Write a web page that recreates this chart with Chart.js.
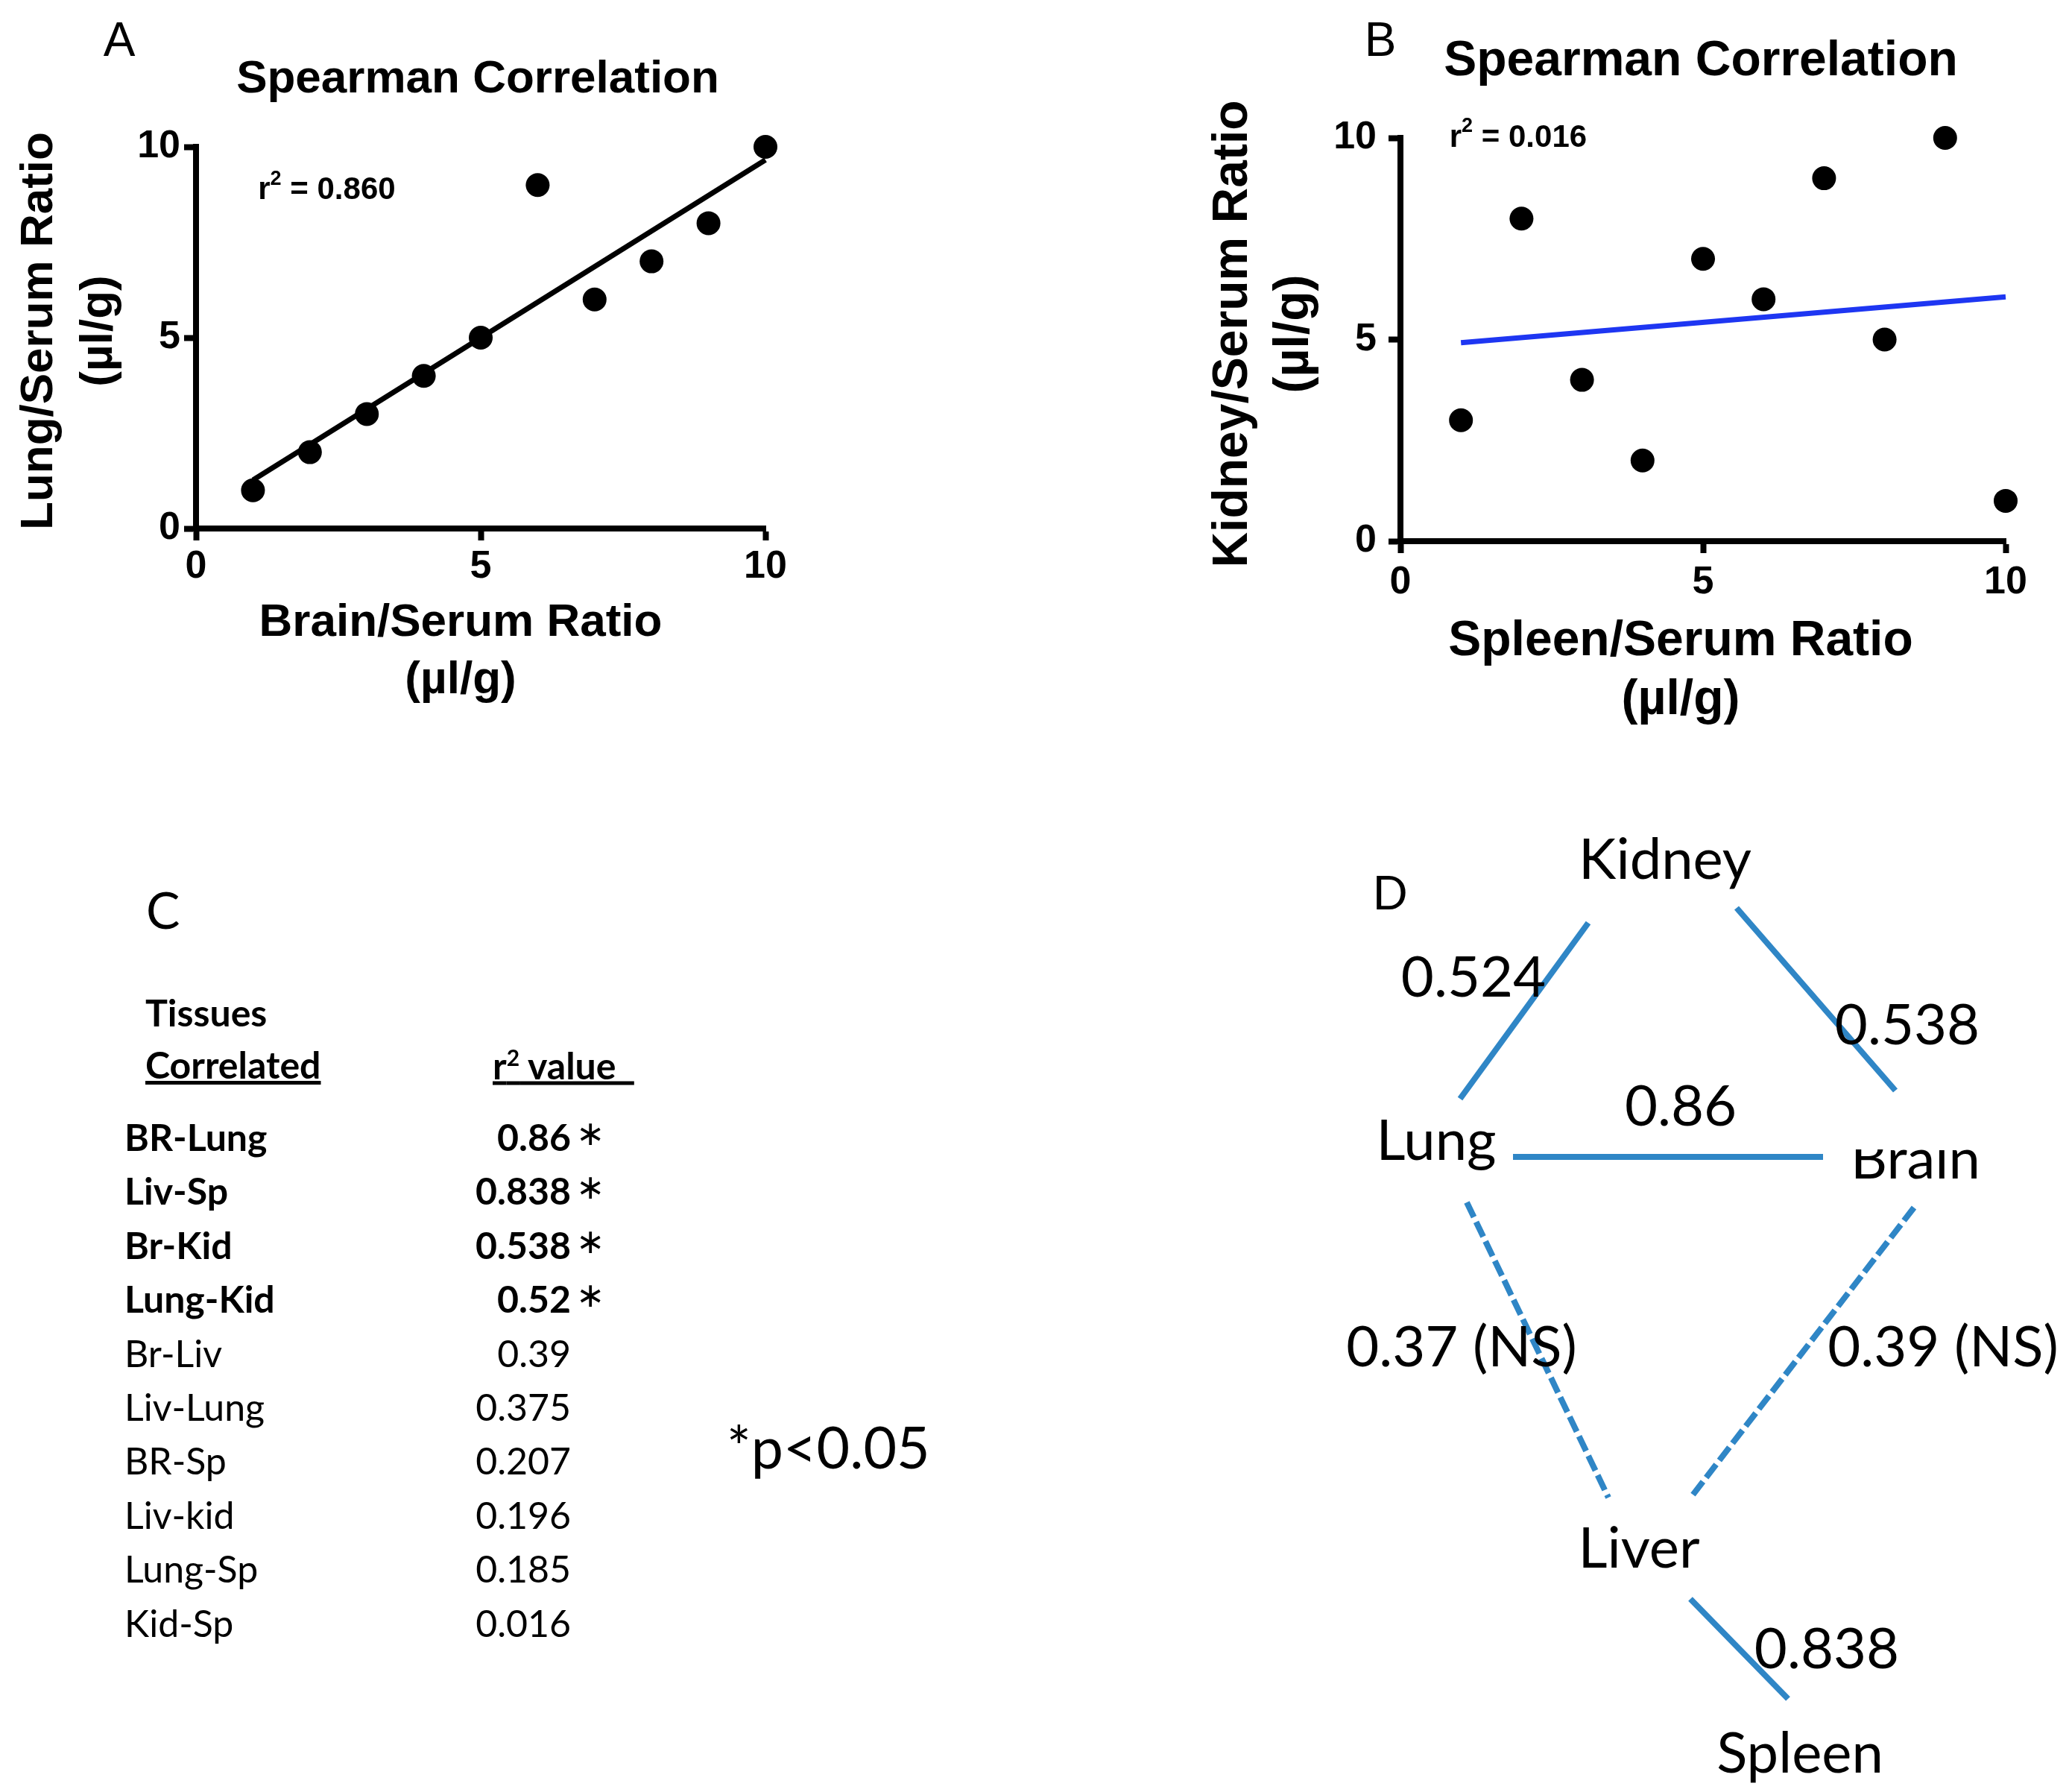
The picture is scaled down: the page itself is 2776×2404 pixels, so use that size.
<!DOCTYPE html>
<html>
<head>
<meta charset="utf-8">
<script src="https://cdn.jsdelivr.net/npm/chart.js@4.4.1/dist/chart.umd.min.js"></script>
<style>
  html, body { margin: 0; padding: 0; background: #fff; }
  body { width: 2776px; height: 2404px; position: relative; overflow: hidden; }
  .box { position: absolute; }
  #tableC { position: absolute; left: 0; top: 0; width: 1500px; height: 2404px; color: #000; font-family: Lato, "Open Sans", sans-serif; }
  #tableC div { position: absolute; white-space: pre; line-height: 1; transform: translateY(-50%); }
</style>
</head>
<body>
<div class="box" style="left:0;top:0;width:1100px;height:960px"><canvas id="chartA"></canvas></div>
<div class="box" style="left:1560px;top:0;width:1216px;height:1000px"><canvas id="chartB"></canvas></div>
<div id="tableC"></div>
<div class="box" style="left:1800px;top:1080px;width:976px;height:1324px"><canvas id="chartD"></canvas></div>

<script>
// Panel A : brain vs lung
const brainSerum = [1, 2, 3, 4, 5, 6, 7, 8, 9, 10];
const lungSerum = [1, 2, 3, 4, 5, 9, 6, 7, 8, 10];
const fitAX = [1, 10];
const fitAY = [1.27, 9.66];

// Panel B : spleen vs kidney
const spleenSerum = [1, 2, 3, 4, 5, 6, 7, 8, 9, 10];
const kidneySerum = [3, 8, 4, 2, 7, 6, 9, 5, 10, 1];
const fitBX = [1, 10];
const fitBY = [4.92, 6.06];

const axisTicks = [0, 5, 10];

// Panel C : table
const tissuePairs = ['BR-Lung', 'Liv-Sp', 'Br-Kid', 'Lung-Kid', 'Br-Liv', 'Liv-Lung', 'BR-Sp', 'Liv-kid', 'Lung-Sp', 'Kid-Sp'];
const r2Values = ['0.86', '0.838', '0.538', '0.52', '0.39', '0.375', '0.207', '0.196', '0.185', '0.016'];
const significant = [true, true, true, true, false, false, false, false, false, false];

// Panel D : network (diagram units)
const nodeNames = ['Kidney', 'Lung', 'Brain', 'Liver', 'Spleen'];
const nodeX = [43.4, 12.7, 77.0, 39.9, 61.5];
const nodeY = [7.4, 45.1, 47.6, 99.8, 127.3];
const edgeLabels = ['0.524', '0.538', '0.86', '0.37 (NS)', '0.39 (NS)', '0.838'];
const edgeSolid = [true, true, true, false, false, true];
const edgeStartX = [15.9, 53.0, 23.0, 16.8, 76.8, 46.8];
const edgeStartY = [39.4, 13.8, 47.2, 53.3, 54.0, 106.5];
const edgeEndX = [33.1, 74.3, 64.6, 35.8, 47.0, 59.9];
const edgeEndY = [15.8, 38.3, 47.2, 92.9, 92.7, 119.9];
const edgeLabelX = [17.7, 75.9, 45.5, 16.1, 80.7, 65.1];
const edgeLabelY = [23.2, 29.6, 40.5, 72.8, 72.8, 113.3];

const ARIAL = '"Liberation Sans", Arial, sans-serif';
const CAL = 'Lato, "Open Sans", sans-serif';

// textos do painel: letra, titulo, titulos dos eixos, r2
const panelText = {
    id: 'panelText',
    afterDraw(chart, args, o) {
        const ctx = chart.ctx;
        ctx.save();
        ctx.fillStyle = '#000';
        ctx.textBaseline = 'middle';
        ctx.textAlign = 'center';
        ctx.font = '64px ' + ARIAL;
        ctx.fillText(o.letter, o.letterX, o.letterY);
        ctx.font = 'bold ' + o.titleSize + 'px ' + ARIAL;
        ctx.fillText('Spearman Correlation', o.titleX, o.titleY);

        ctx.font = 'bold ' + o.axisSize + 'px ' + ARIAL;
        o.xTitle.forEach((t, i) => ctx.fillText(t, o.xTitleX, o.xTitleY[i]));
        o.yTitle.forEach((t, i) => {
            ctx.save();
            ctx.translate(o.yTitleX[i], o.yTitleY);
            ctx.rotate(-Math.PI / 2);
            ctx.fillText(t, 0, 0);
            ctx.restore();
        });

        // r² annotation
        let x = chart.scales.x.getPixelForValue(o.r2X);
        const y = chart.scales.y.getPixelForValue(o.r2Y);
        ctx.textAlign = 'left';
        ctx.font = 'bold 42px ' + ARIAL;
        ctx.fillText('r', x, y);
        x += ctx.measureText('r').width;
        ctx.font = 'bold 27px ' + ARIAL;
        ctx.fillText('2', x, y - 15);
        x += ctx.measureText('2').width;
        ctx.font = 'bold 42px ' + ARIAL;
        ctx.fillText(' = ' + o.r2, x, y);
        ctx.restore();
    }
};

function scatterPanel(id, xs, ys, fitX, fitY, lineColor, lay) {
    const pts = xs.map((v, i) => ({ x: v, y: ys[i] }));
    const fit = fitX.map((v, i) => ({ x: v, y: fitY[i] }));
    const tickFont = { family: ARIAL, size: 52, weight: 'bold' };
    return new Chart(document.getElementById(id), {
        type: 'scatter',
        data: {
            datasets: [
                { data: fit, showLine: true, borderColor: lineColor, borderWidth: lay.fitWidth, pointRadius: 0, clip: false },
                { data: pts, backgroundColor: '#000', borderWidth: 0, pointRadius: 16, pointHoverRadius: 16, clip: false }
            ]
        },
        options: {
            responsive: true,
            maintainAspectRatio: false,
            animation: false,
            events: [],
            layout: { padding: { left: 0, right: lay.right, top: lay.top, bottom: 0 } },
            plugins: {
                legend: { display: false },
                tooltip: { enabled: false },
                panelText: lay.text
            },
            scales: {
                x: {
                    type: 'linear', min: 0, max: 10,
                    afterBuildTicks: s => { s.ticks = axisTicks.map(v => ({ value: v })); },
                    ticks: { font: tickFont, color: '#000', padding: lay.xTickPad, maxRotation: 0 },
                    grid: { drawOnChartArea: false, drawTicks: true, tickLength: 16, tickWidth: 8, color: '#000' },
                    border: { display: true, width: 8, color: '#000' },
                    afterFit: s => { s.height = lay.xHeight; }
                },
                y: {
                    type: 'linear', min: 0, max: 10,
                    afterBuildTicks: s => { s.ticks = axisTicks.map(v => ({ value: v })); },
                    ticks: { font: tickFont, color: '#000', padding: lay.yTickPad },
                    grid: { drawOnChartArea: false, drawTicks: true, tickLength: 16, tickWidth: 8, color: '#000' },
                    border: { display: true, width: 8, color: '#000' },
                    afterFit: s => { s.width = lay.yWidth; }
                }
            }
        },
        plugins: [panelText]
    });
}

scatterPanel('chartA', brainSerum, lungSerum, fitAX, fitAY, '#000', {
    right: 73, top: 197, xHeight: 251, yWidth: 263, xTickPad: 4, yTickPad: 5, fitWidth: 7,
    text: {
        letter: 'A', letterX: 160, letterY: 57, titleX: 641, titleY: 107, titleSize: 62,
        axisSize: 62, xTitle: ['Brain/Serum Ratio', '(\u00b5l/g)'], xTitleX: 618, xTitleY: [836, 913],
        yTitle: ['Lung/Serum Ratio', '(\u00b5l/g)'], yTitleX: [53, 133], yTitleY: 444,
        r2: '0.860', r2X: 1.09, r2Y: 8.85
    }
});

scatterPanel('chartB', spleenSerum, kidneySerum, fitBX, fitBY, '#1e36f2', {
    right: 85, top: 185, xHeight: 274, yWidth: 319, xTickPad: 8, yTickPad: 16, fitWidth: 7,
    text: {
        letter: 'B', letterX: 292, letterY: 57, titleX: 722, titleY: 83, titleSize: 66,
        axisSize: 66, xTitle: ['Spleen/Serum Ratio', '(\u00b5l/g)'], xTitleX: 695, xTitleY: [861, 940],
        yTitle: ['Kidney/Serum Ratio', '(\u00b5l/g)'], yTitleX: [95, 177], yTitleY: 448,
        r2: '0.016', r2X: 0.81, r2Y: 10.0
    }
});

// Tabela C
const tableC = document.getElementById('tableC');
function addText(txt, left, top, css) {
    const d = document.createElement('div');
    d.innerHTML = txt;
    d.style.left = left + 'px';
    d.style.top = top + 'px';
    d.style.cssText += css;
    tableC.appendChild(d);
    return d;
}
addText('C', 196, 1220, 'font-size:68px;');
addText('Tissues', 195, 1358, 'font-size:50px;font-weight:bold;');
addText('Correlated', 195, 1428, 'font-size:50px;font-weight:bold;text-decoration:underline;');
addText('r<sup style="font-size:30px;vertical-align:18px">2</sup> value\u00a0\u00a0', 661, 1428, 'font-size:50px;font-weight:bold;text-decoration:underline;');
tissuePairs.forEach((name, i) => {
    const y = 1525 + i * 72.4;
    const w = significant[i] ? 'bold' : 'normal';
    addText(name, 167, y, 'font-size:50px;font-weight:' + w + ';');
    addText(r2Values[i], 0, y, 'font-size:50px;font-weight:' + w + ';text-align:right;width:766px;');
    if (significant[i]) {
        addText('\u2217', 773, y - 5, 'font-size:46px;font-family:"DejaVu Sans";');
    }
});
addText('*p&lt;0.05', 975, 1940, 'font-size:77px;');

// Painel D - rede de correlacoes
const edgeSets = edgeLabels.map((lbl, i) => ({
    data: [{ x: edgeStartX[i], y: edgeStartY[i] }, { x: edgeEndX[i], y: edgeEndY[i] }],
    showLine: true,
    borderColor: '#2f86c6',
    borderWidth: 8,
    borderDash: edgeSolid[i] ? [] : [22, 7],
    pointRadius: 0,
    clip: false
}));

const networkText = {
    id: 'networkText',
    afterDatasetsDraw(chart) {
        const ctx = chart.ctx;
        const sx = chart.scales.x, sy = chart.scales.y;
        ctx.save();
        ctx.fillStyle = '#000';
        ctx.textAlign = 'center';
        ctx.textBaseline = 'middle';
        ctx.font = '76px ' + CAL;
        nodeNames.forEach((n, i) => {
            const px = sx.getPixelForValue(nodeX[i]);
            const py = sy.getPixelForValue(nodeY[i]);
            ctx.save();
            if (n === 'Brain') {
                // topo do "Brain" cortado como no original
                const top = sy.getPixelForValue(46.2);
                ctx.beginPath();
                ctx.rect(px - 150, top, 300, 120);
                ctx.clip();
            }
            ctx.fillText(n, px, py);
            ctx.restore();
        });
        edgeLabels.forEach((l, i) => {
            ctx.fillText(l, sx.getPixelForValue(edgeLabelX[i]), sy.getPixelForValue(edgeLabelY[i]));
        });
        ctx.font = '62px ' + CAL;
        ctx.fillText('D', sx.getPixelForValue(6.5), sy.getPixelForValue(12.0));
        ctx.restore();
    }
};

new Chart(document.getElementById('chartD'), {
    type: 'scatter',
    data: { datasets: edgeSets },
    options: {
        responsive: true,
        maintainAspectRatio: false,
        animation: false,
        events: [],
        layout: { padding: 0 },
        plugins: { legend: { display: false }, tooltip: { enabled: false } },
        scales: {
            x: { type: 'linear', min: 0, max: 97.6, display: false },
            y: { type: 'linear', min: 0, max: 132.4, reverse: true, display: false }
        }
    },
    plugins: [networkText]
});
</script>
</body>
</html>
